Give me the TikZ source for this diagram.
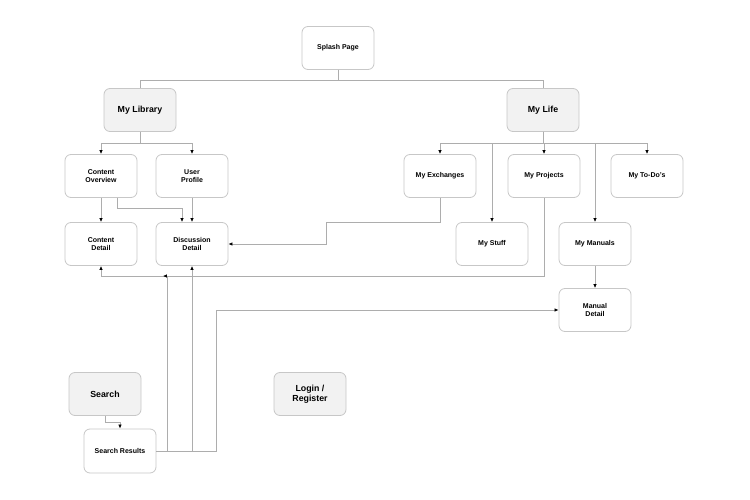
\documentclass[tikz,border=0pt]{standalone}
\usepackage{fontspec}
\setmainfont{Liberation Sans}
\usetikzlibrary{arrows.meta}

\begin{document}
\begin{tikzpicture}[
    x=1pt, y=-1pt,
    box/.style={draw=black!22, line width=0.8pt, rounded corners=6pt,
                minimum width=72pt, minimum height=43pt, inner sep=1pt,
                align=center, font=\bfseries\fontsize{7}{8.6}\selectfont},
    hub/.style={box, fill=black!5, font=\bfseries\fontsize{8.8}{10.4}\selectfont},
    link/.style={draw=black!32, line width=0.7pt},
    arr/.style={link, -{Latex[length=4pt,width=3.4pt,color=black]}}]

\useasboundingbox (0,0) rectangle (750,500);

% top levels
\node[box] (splash) at (338,48) {Splash Page};
\node[hub] (lib) at (140,110) {My Library};
\node[hub] (life) at (543,110) {My Life};

% library side
\node[box] (over) at (101,176) {Content\\Overview};
\node[box] (prof) at (192,176) {User\\Profile};
\node[box] (cdet) at (101,244) {Content\\Detail};
\node[box] (ddet) at (192,244) {Discussion\\Detail};

% life side
\node[box] (exch) at (440,176) {My Exchanges};
\node[box] (proj) at (544,176) {My Projects};
\node[box] (todo) at (647,176) {My To-Do's};
\node[box] (stuff) at (492,244) {My Stuff};
\node[box] (manu) at (595,244) {My Manuals};
\node[box] (mdet) at (595,310) {Manual\\Detail};

% loose ones
\node[hub] (search) at (105,394) {Search};
\node[hub] (login) at (310,394) {Login /\\Register};
\node[box, minimum height=44pt] (sres) at (120,451) {Search Results};

\draw[link] (splash.south) -- ++(0,10) -| (lib.north);
\draw[link] (splash.south) -- ++(0,10) -| (life.north);

\foreach \kid in {over,prof}
    \draw[arr] (lib.south) -- ++(0,11) -| (\kid.north);
\foreach \kid in {exch,proj,todo,stuff,manu}
    \draw[arr] (life.south) -- ++(0,11) -| (\kid.north);

\draw[arr] (over.south) -- (cdet.north);
\draw[arr] ([xshift=16pt]over.south) -- ++(0,10) -| ([xshift=-10pt]ddet.north);
\draw[arr] (prof.south) -- (ddet.north);
\draw[arr] (exch.south) -- ++(0,24) -- ++(-114,0) |- (ddet.east);
\draw[arr] (proj.south) -- ++(0,78) -| (cdet.south);
\draw[arr] (manu.south) -- (mdet.north);

% search
\draw[arr] (search.south) -- ++(0,6) -| (sres.north);
\draw[arr] (sres.east) -- ++(60,0) |- (mdet.west);
\draw[arr] (sres.east) -| (ddet.south);
\draw[arr] (sres.east) -- ++(10.5,0) -- ++(0,-175) -- ++(-4,0);

\end{tikzpicture}
\end{document}
